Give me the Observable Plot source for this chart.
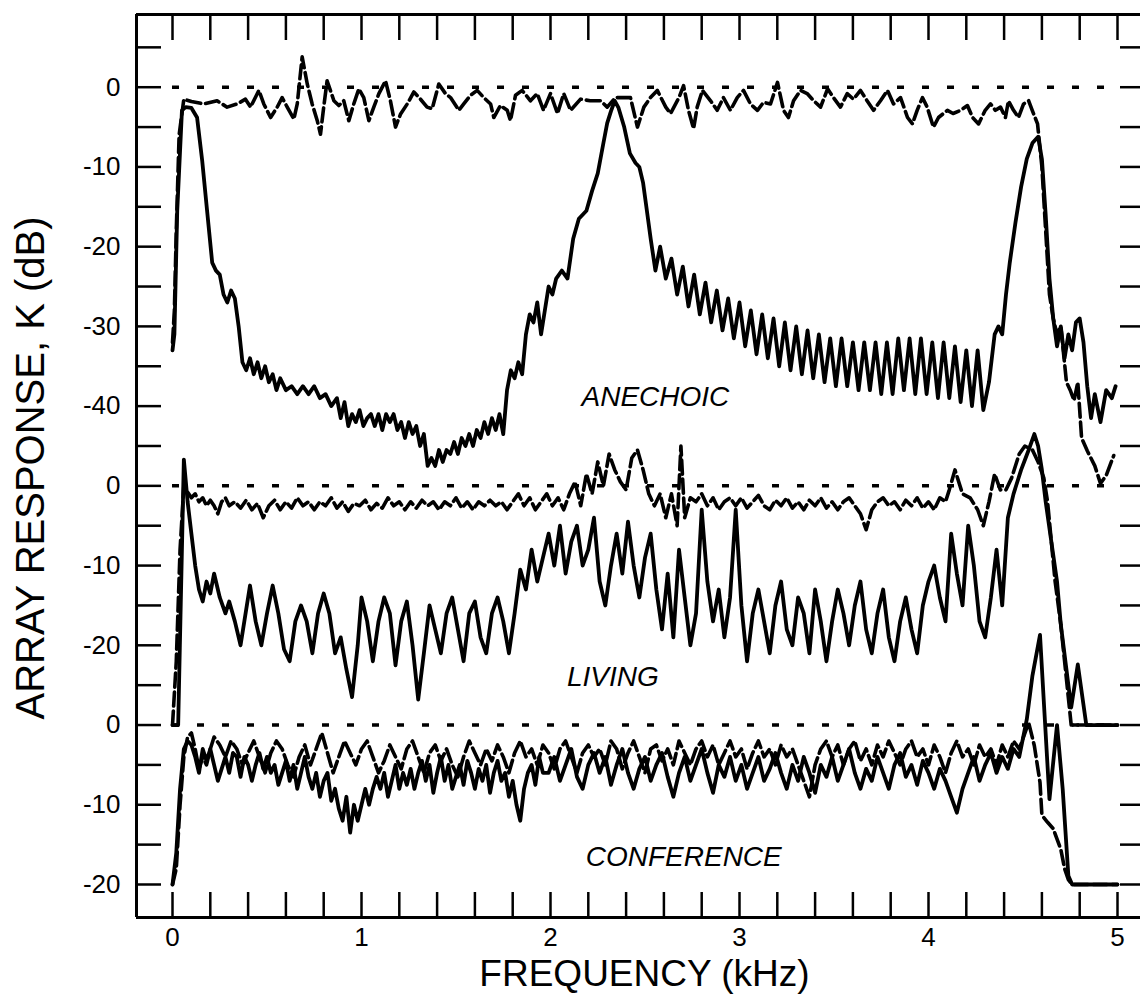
<!DOCTYPE html>
<html><head><meta charset="utf-8">
<script src="https://cdn.jsdelivr.net/npm/d3@7"></script>
<script src="https://cdn.jsdelivr.net/npm/@observablehq/plot@0.6"></script>
<style>body{margin:0;background:#fff;}</style>
</head><body><div id="chart"></div>
<script>
// ---- Data (frequency in kHz, response in dB relative to each panel's 0 dB line) ----
const panels = ["ANECHOIC", "LIVING", "CONFERENCE"];
const panelOffsets = [0, -50, -80];

const xTicks = [0,0.2,0.4,0.6,0.8,1,1.2,1.4,1.6,1.8,2,2.2,2.4,2.6,2.8,3,3.2,3.4,3.6,3.8,4,4.2,4.4,4.6,4.8,5];
const xTickLabels = [0,1,2,3,4,5];
const yTicks = [5,0,-5,-10,-15,-20,-25,-30,-35,-40,-45,-50,-55,-60,-65,-70,-75,-80,-85,-90,-95,-100];
const yLabelValues = [0,-10,-20,-30,-40,-50,-60,-70,-80,-90,-100];
const yLabelText = ["0","-10","-20","-30","-40","0","-10","-20","0","-10","-20"];

const anechoicSolid = [[0,-33],[0.01,-31],[0.025,-15.5],[0.05,-2.9],[0.07,-2.5],[0.1,-2.6],[0.13,-3.8],[0.157,-9.2],[0.183,-15.5],[0.21,-22],[0.23,-23],[0.25,-23.5],[0.27,-26],[0.29,-27],[0.31,-25.5],[0.33,-26.5],[0.35,-30],[0.37,-34.5],[0.39,-35.5],[0.41,-34],[0.43,-36],[0.45,-34.5],[0.47,-36.5],[0.49,-35],[0.51,-37],[0.53,-36],[0.55,-38],[0.57,-36.5],[0.6,-38],[0.63,-37.5],[0.66,-38.5],[0.69,-37.5],[0.72,-38.5],[0.75,-37.5],[0.78,-39],[0.81,-38.5],[0.84,-40],[0.87,-39],[0.89,-41.5],[0.91,-39.5],[0.93,-42.5],[0.95,-41],[0.97,-42],[0.99,-40.5],[1.01,-42.5],[1.03,-41.5],[1.05,-41],[1.07,-42.5],[1.09,-41],[1.11,-43],[1.13,-41],[1.15,-42],[1.17,-41],[1.19,-43],[1.21,-42],[1.23,-44],[1.25,-42],[1.27,-43.5],[1.29,-42.5],[1.31,-45],[1.33,-43.5],[1.35,-47.5],[1.37,-46.5],[1.39,-47.5],[1.41,-45.5],[1.43,-47],[1.45,-45.5],[1.47,-46],[1.49,-44.5],[1.51,-46],[1.53,-44],[1.55,-45],[1.57,-43.5],[1.59,-45],[1.61,-43],[1.63,-44],[1.65,-42],[1.67,-43.5],[1.69,-41.5],[1.71,-43],[1.73,-41],[1.75,-43.5],[1.77,-38],[1.79,-35.5],[1.81,-36.5],[1.83,-34.5],[1.85,-36],[1.87,-31],[1.89,-28.5],[1.91,-29.5],[1.93,-27],[1.95,-31],[1.97,-28],[1.99,-25],[2.01,-26],[2.03,-24],[2.06,-23],[2.09,-24],[2.12,-19],[2.15,-16.5],[2.19,-15.5],[2.22,-13],[2.25,-10.8],[2.28,-7],[2.3,-4.5],[2.32,-3],[2.34,-1.7],[2.36,-2.6],[2.39,-5],[2.42,-8.3],[2.45,-9.5],[2.47,-10],[2.49,-12],[2.51,-15.5],[2.53,-19],[2.555,-23],[2.58,-20],[2.61,-24],[2.64,-21.5],[2.67,-26],[2.7,-22.5],[2.73,-27.5],[2.76,-23.5],[2.79,-28.5],[2.82,-24.5],[2.85,-29.5],[2.88,-25.5],[2.91,-30.5],[2.94,-26.5],[2.97,-31.5],[3,-27],[3.03,-32.5],[3.06,-28],[3.09,-33.5],[3.12,-28.5],[3.15,-34],[3.18,-29],[3.21,-35],[3.24,-29.5],[3.27,-35.5],[3.3,-30],[3.33,-36],[3.36,-30.5],[3.39,-36.5],[3.42,-31],[3.45,-37],[3.48,-31.5],[3.51,-37.5],[3.54,-31.5],[3.57,-37.5],[3.6,-32],[3.63,-38],[3.66,-32],[3.69,-38],[3.72,-32],[3.75,-38.5],[3.78,-32],[3.81,-38.5],[3.84,-31.5],[3.87,-38],[3.9,-31.5],[3.93,-38.5],[3.96,-31.5],[3.99,-38.5],[4.02,-32],[4.05,-39],[4.08,-32],[4.11,-39],[4.14,-32.5],[4.17,-39.5],[4.2,-33],[4.23,-40],[4.26,-33],[4.29,-40.5],[4.32,-37],[4.35,-31],[4.37,-30],[4.39,-31],[4.41,-26],[4.43,-22],[4.46,-17],[4.49,-12.5],[4.52,-9],[4.55,-7],[4.58,-6.2],[4.6,-9],[4.62,-16],[4.64,-24],[4.66,-29],[4.68,-32.5],[4.7,-30],[4.72,-34],[4.74,-31],[4.76,-33],[4.78,-29.5],[4.8,-29],[4.82,-32],[4.84,-37.5],[4.86,-41.5],[4.88,-38.5],[4.91,-42],[4.94,-38],[4.97,-39],[4.99,-37.5]];

const anechoicDashed = [[0,-32],[0.01,-28],[0.02,-18],[0.035,-6],[0.06,-1.5],[0.1,-1.8],[0.166,-2.1],[0.236,-1.7],[0.289,-2.5],[0.342,-2.1],[0.386,-1.5],[0.413,-2.5],[0.457,-0.4],[0.483,-2.1],[0.519,-3.8],[0.554,-2.5],[0.58,-1.3],[0.607,-2.5],[0.642,-4],[0.66,-2.1],[0.686,3.8],[0.713,0.4],[0.739,-2.1],[0.766,-4.2],[0.783,-5.9],[0.8,-2.5],[0.818,0.8],[0.854,-1.7],[0.88,-2.3],[0.906,-1.7],[0.933,-4.2],[0.959,-2.1],[0.986,-0.2],[1.012,-1.3],[1.039,-4.2],[1.065,-2.5],[1.092,-0.8],[1.127,0.8],[1.153,-1.7],[1.18,-5],[1.206,-3.4],[1.242,-2.1],[1.277,-0.6],[1.312,-1.5],[1.347,-2.5],[1.374,-2.7],[1.409,0.4],[1.444,-0.8],[1.471,-1.3],[1.515,-2.9],[1.541,-2.1],[1.577,-1],[1.612,-0.4],[1.647,-1.3],[1.683,-2.1],[1.7,-3.8],[1.735,-2.3],[1.771,-2.9],[1.788,-4.2],[1.815,-1],[1.85,-0.4],[1.894,-1.7],[1.93,-0.8],[1.963,-2.9],[2,-0.8],[2.037,-3.3],[2.07,-0.8],[2.106,-2.9],[2.159,-1.5],[2.21,-1.7],[2.265,-1.7],[2.3,-2.5],[2.344,-1.3],[2.388,-1.3],[2.423,-1.3],[2.46,-5],[2.494,-2.5],[2.529,-1.3],[2.565,-0.4],[2.61,-2.5],[2.635,-3.3],[2.68,-1.3],[2.704,0.2],[2.73,-2.9],[2.757,-5.2],[2.776,-2.5],[2.804,-0.4],[2.847,-1.7],[2.882,-2.9],[2.915,-1.3],[2.952,-2.9],[2.988,-1.3],[3.021,-0.4],[3.058,-2.1],[3.095,-2.9],[3.127,-1.9],[3.164,-2.1],[3.201,0.6],[3.233,-2.9],[3.259,-3.8],[3.286,-1.7],[3.323,-0.4],[3.358,-0.8],[3.393,-1.7],[3.429,-2.5],[3.466,-0.2],[3.497,-1.3],[3.534,-2.5],[3.57,-0.8],[3.603,-1.5],[3.64,-0.4],[3.675,-1.7],[3.709,-2.9],[3.746,-1.7],[3.783,-0.4],[3.815,-2.1],[3.852,-1.3],[3.889,-3.8],[3.915,-4.6],[3.94,-2.9],[3.968,-1.3],[3.993,-2.5],[4.026,-5],[4.053,-3.8],[4.1,-2.9],[4.13,-3.3],[4.17,-2.9],[4.206,-2.3],[4.233,-3.8],[4.265,-4.6],[4.3,-2.9],[4.328,-2.1],[4.354,-2.9],[4.381,-2.5],[4.407,-3.8],[4.423,-1.7],[4.45,-2.9],[4.476,-3.8],[4.503,-2.1],[4.53,-1.7],[4.549,-2.9],[4.577,-4.6],[4.6,-10],[4.62,-18],[4.64,-26],[4.66,-29],[4.68,-31],[4.7,-30],[4.73,-37],[4.75,-38],[4.77,-39.3],[4.79,-37],[4.81,-44],[4.84,-45.6],[4.88,-47.5],[4.91,-49.7],[4.94,-48.7],[4.98,-46.2]];

const livingSolid = [[0,-30],[0.03,-30],[0.06,3.3],[0.08,-2],[0.1,-6],[0.12,-10],[0.14,-13],[0.16,-14.5],[0.18,-12],[0.2,-13.5],[0.22,-11],[0.25,-14],[0.28,-16],[0.3,-14.5],[0.33,-17],[0.36,-20],[0.38,-17],[0.41,-12.5],[0.44,-17],[0.47,-20],[0.5,-16],[0.53,-12.5],[0.56,-16],[0.59,-20.5],[0.62,-22],[0.65,-17],[0.68,-15],[0.71,-17],[0.74,-21],[0.77,-16],[0.8,-13.5],[0.83,-16],[0.86,-21],[0.89,-19],[0.92,-23],[0.95,-26.5],[0.98,-20],[1,-14],[1.03,-17],[1.06,-22],[1.09,-17],[1.12,-14],[1.15,-16],[1.18,-22.5],[1.21,-17],[1.24,-14.5],[1.27,-20],[1.3,-26.8],[1.33,-21],[1.36,-15],[1.39,-18],[1.42,-21],[1.45,-16],[1.48,-14],[1.51,-18],[1.54,-22],[1.57,-16],[1.6,-14.5],[1.63,-19],[1.66,-21],[1.69,-16],[1.72,-14],[1.75,-17],[1.78,-21],[1.81,-16],[1.84,-10.5],[1.87,-13],[1.9,-8],[1.93,-12],[1.96,-9],[1.99,-6],[2.02,-10],[2.05,-5],[2.08,-11],[2.11,-7],[2.14,-5],[2.17,-10],[2.2,-8],[2.23,-4],[2.26,-12],[2.29,-15],[2.32,-10],[2.35,-6],[2.38,-11],[2.41,-4.5],[2.44,-10],[2.47,-14],[2.5,-9],[2.53,-6],[2.56,-13],[2.59,-18],[2.62,-11],[2.65,-19],[2.68,-8],[2.71,-14],[2.74,-20],[2.77,-16],[2.8,-3],[2.83,-12],[2.86,-17],[2.89,-13],[2.92,-19],[2.95,-14],[2.98,-3],[3.01,-15],[3.04,-22],[3.07,-16],[3.1,-13],[3.13,-17],[3.16,-21],[3.19,-15],[3.22,-12],[3.25,-18],[3.28,-20],[3.31,-14],[3.34,-16],[3.37,-21],[3.4,-13],[3.43,-17],[3.46,-22],[3.49,-17],[3.52,-13],[3.55,-16],[3.58,-20],[3.61,-15],[3.64,-12],[3.67,-18],[3.7,-21],[3.73,-16],[3.76,-13],[3.79,-19],[3.82,-22],[3.85,-17],[3.88,-14],[3.91,-18],[3.94,-21],[3.97,-15],[4,-12],[4.03,-10],[4.06,-14],[4.09,-17],[4.12,-6],[4.15,-11],[4.18,-15],[4.21,-5],[4.24,-10],[4.27,-17],[4.3,-19],[4.33,-14],[4.36,-8],[4.39,-15],[4.42,-4],[4.45,-1],[4.49,2],[4.53,4.5],[4.56,6.5],[4.58,5],[4.6,2],[4.62,-2],[4.65,-7],[4.68,-12],[4.7,-17.4],[4.755,-27.8],[4.79,-22.4],[4.835,-30],[5,-30]];

const livingDashed = [[0,-30],[0.02,-22],[0.04,-8],[0.06,0],[0.08,-0.8],[0.1,-1.5],[0.12,-1],[0.14,-2],[0.16,-1.5],[0.18,-2.5],[0.2,-1.8],[0.22,-2.5],[0.24,-3.5],[0.26,-2],[0.28,-1.5],[0.3,-2.5],[0.33,-2],[0.36,-2.8],[0.39,-1.8],[0.42,-3],[0.45,-2.2],[0.48,-4],[0.51,-2.5],[0.54,-1.8],[0.57,-3],[0.6,-2],[0.63,-2.8],[0.66,-1.5],[0.69,-2.5],[0.72,-2],[0.75,-3],[0.78,-2],[0.81,-2.5],[0.84,-1.5],[0.87,-2.8],[0.9,-2],[0.93,-3.2],[0.96,-2.2],[0.99,-2.5],[1.02,-1.8],[1.05,-3],[1.08,-2.2],[1.11,-2.8],[1.14,-1.5],[1.17,-2.5],[1.2,-2],[1.23,-3],[1.26,-2],[1.29,-2.8],[1.32,-1.8],[1.35,-2.5],[1.38,-2],[1.41,-3],[1.44,-2],[1.47,-2.5],[1.5,-1.5],[1.53,-2.8],[1.56,-2],[1.59,-3],[1.62,-2],[1.65,-2.5],[1.68,-1.8],[1.71,-2.5],[1.74,-2],[1.77,-3],[1.8,-2],[1.83,-1],[1.86,-2.5],[1.89,-1.5],[1.92,-3],[1.95,-2],[1.98,-1],[2.01,-2.5],[2.04,-1.5],[2.07,-3],[2.1,-1],[2.13,0.5],[2.16,-2.5],[2.19,1.5],[2.22,-1],[2.25,3],[2.28,0],[2.31,4],[2.34,2],[2.37,0.5],[2.4,-0.5],[2.43,3.5],[2.46,4.5],[2.49,2],[2.52,-1],[2.55,-2.5],[2.58,-1],[2.61,-4],[2.64,-1],[2.67,-5],[2.69,5],[2.71,-4],[2.74,-1.5],[2.77,-2],[2.8,-1],[2.83,-2.5],[2.86,-1.5],[2.89,-3],[2.92,-2],[2.95,-1.5],[2.98,-2.5],[3.01,-1.5],[3.04,-2.8],[3.07,-2],[3.1,-1.2],[3.13,-2.5],[3.16,-3],[3.19,-1.8],[3.22,-2.5],[3.25,-1.5],[3.28,-2.8],[3.31,-2],[3.34,-3],[3.37,-1.8],[3.4,-2.5],[3.43,-1.5],[3.46,-2.8],[3.49,-2],[3.52,-3],[3.55,-2],[3.58,-1.5],[3.61,-2.5],[3.64,-3.5],[3.67,-5.5],[3.7,-3],[3.73,-2],[3.76,-1.5],[3.79,-2.5],[3.82,-2],[3.85,-3],[3.88,-1.8],[3.91,-2.5],[3.94,-1.5],[3.97,-2.8],[4,-2],[4.03,-3],[4.06,-1.5],[4.09,-2],[4.11,-0.5],[4.14,2],[4.18,-1],[4.22,-1.5],[4.26,-3],[4.29,-5],[4.32,-2],[4.35,1.5],[4.38,-0.5],[4.41,-0.5],[4.44,1],[4.48,4],[4.51,5],[4.55,4.5],[4.58,3],[4.61,1],[4.63,-2],[4.65,-7],[4.67,-12],[4.7,-17.4],[4.755,-30],[5,-30]];

const conferenceSolid = [[0,-20],[0.02,-16],[0.04,-8],[0.06,-3],[0.08,-2],[0.1,-2.5],[0.12,-4],[0.14,-6],[0.16,-3],[0.18,-4.5],[0.2,-3],[0.22,-5],[0.24,-7],[0.26,-5.5],[0.28,-4],[0.3,-6],[0.32,-3.5],[0.34,-4],[0.36,-6.5],[0.38,-4],[0.4,-5],[0.42,-7],[0.44,-5],[0.46,-3.5],[0.48,-5.5],[0.5,-4],[0.52,-6],[0.54,-5],[0.56,-7.5],[0.58,-6],[0.6,-4.5],[0.62,-7],[0.64,-5],[0.66,-8],[0.68,-6],[0.7,-4],[0.72,-6.5],[0.74,-8],[0.76,-6],[0.78,-9],[0.8,-7],[0.82,-6],[0.84,-9.5],[0.86,-8],[0.88,-10.5],[0.9,-12],[0.92,-9],[0.94,-13.5],[0.96,-10],[0.98,-12],[1,-10],[1.02,-8],[1.04,-10],[1.06,-8],[1.08,-6.5],[1.1,-8],[1.12,-6],[1.14,-9],[1.16,-7],[1.18,-5],[1.2,-8],[1.22,-6],[1.24,-7.5],[1.26,-5.5],[1.28,-8],[1.3,-6],[1.32,-4.5],[1.34,-7],[1.36,-5],[1.38,-8.5],[1.4,-6],[1.42,-4],[1.44,-7],[1.46,-5],[1.48,-8],[1.5,-6.5],[1.52,-5],[1.54,-7.5],[1.56,-4.5],[1.58,-6],[1.6,-8],[1.62,-5.5],[1.64,-7],[1.66,-5],[1.68,-8.5],[1.7,-6],[1.72,-4.5],[1.74,-7],[1.76,-6],[1.78,-9],[1.8,-7],[1.82,-10],[1.84,-12],[1.86,-8],[1.88,-6],[1.9,-5],[1.92,-7.5],[1.94,-4],[1.96,-6],[1.99,-6],[2.02,-4],[2.05,-7],[2.08,-5],[2.11,-3],[2.14,-6.5],[2.17,-8],[2.2,-5],[2.23,-3.5],[2.26,-6],[2.29,-4],[2.32,-7.5],[2.35,-5],[2.38,-3],[2.41,-6],[2.44,-8],[2.47,-5.5],[2.5,-4],[2.53,-7],[2.56,-5],[2.59,-3.5],[2.62,-6.5],[2.65,-9],[2.68,-6],[2.71,-4],[2.74,-7],[2.77,-5],[2.8,-3],[2.83,-6],[2.86,-8.5],[2.89,-5],[2.92,-6.5],[2.95,-4],[2.98,-7],[3.01,-5],[3.04,-8],[3.07,-6],[3.1,-4],[3.13,-7],[3.16,-5.5],[3.19,-3.5],[3.22,-6],[3.25,-8],[3.28,-5],[3.31,-7],[3.34,-4],[3.37,-6],[3.4,-8.5],[3.43,-5],[3.46,-6.5],[3.49,-4],[3.52,-7],[3.55,-5],[3.58,-3],[3.61,-6],[3.64,-8],[3.67,-5.5],[3.7,-7],[3.73,-4],[3.76,-6],[3.79,-8],[3.82,-5],[3.85,-3.5],[3.88,-6.5],[3.91,-5],[3.94,-7.5],[3.97,-4.5],[4,-6],[4.03,-8],[4.06,-5.5],[4.09,-7],[4.12,-9],[4.15,-11],[4.18,-8],[4.21,-6],[4.24,-4],[4.27,-7],[4.3,-5],[4.33,-3.5],[4.36,-6],[4.39,-4],[4.42,-5.5],[4.45,-3],[4.48,-4],[4.52,0.7],[4.55,6.2],[4.59,11.3],[4.61,3],[4.64,-9.3],[4.68,0],[4.71,-8],[4.74,-18.9],[4.76,-20],[5,-20]];

const conferenceDashed = [[0,-20],[0.02,-18],[0.04,-10],[0.06,-4],[0.08,-1.5],[0.1,-1],[0.12,-3],[0.14,-5.5],[0.16,-4],[0.18,-5],[0.2,-3],[0.22,-1.5],[0.25,-2.5],[0.28,-4],[0.31,-2],[0.34,-3],[0.37,-5],[0.4,-3.5],[0.43,-2],[0.46,-4],[0.49,-6],[0.52,-3.5],[0.55,-2],[0.58,-3],[0.61,-5],[0.64,-6.5],[0.67,-4],[0.7,-2.5],[0.73,-5],[0.76,-3],[0.79,-1],[0.82,-3.5],[0.85,-6],[0.88,-4],[0.91,-2],[0.94,-3.5],[0.97,-5],[1,-3],[1.03,-2],[1.06,-4],[1.09,-6],[1.12,-4.5],[1.15,-2.5],[1.18,-4],[1.21,-5.5],[1.24,-3],[1.27,-2],[1.3,-4],[1.33,-6],[1.36,-3.5],[1.39,-2.5],[1.42,-4.5],[1.45,-3],[1.48,-5],[1.51,-6.5],[1.54,-4],[1.57,-2],[1.6,-3.5],[1.63,-5],[1.66,-3],[1.69,-4.5],[1.72,-2.5],[1.75,-4],[1.78,-6],[1.81,-3.5],[1.84,-2],[1.87,-4],[1.9,-3],[1.93,-5],[1.96,-2.5],[1.99,-3.5],[2.02,-5.5],[2.05,-3],[2.08,-2],[2.11,-4],[2.14,-6],[2.17,-3.5],[2.2,-2.5],[2.23,-4],[2.26,-3],[2.29,-5],[2.32,-2],[2.35,-3],[2.38,-5.5],[2.41,-3.5],[2.44,-2],[2.47,-4],[2.5,-6],[2.53,-3],[2.56,-2.5],[2.59,-4.5],[2.62,-3],[2.65,-5],[2.68,-2],[2.71,-3.5],[2.74,-5],[2.77,-3],[2.8,-2],[2.83,-4],[2.86,-2.5],[2.89,-5],[2.92,-3.5],[2.95,-2],[2.98,-4],[3.01,-3],[3.04,-5.5],[3.07,-3.5],[3.1,-2],[3.13,-4],[3.16,-3],[3.19,-5],[3.22,-2.5],[3.25,-4],[3.28,-3],[3.31,-5],[3.34,-7],[3.37,-9],[3.4,-5],[3.43,-3],[3.46,-2],[3.49,-4],[3.52,-2.5],[3.55,-5],[3.58,-3],[3.61,-2],[3.64,-4.5],[3.67,-3],[3.7,-5],[3.73,-2.5],[3.76,-4],[3.79,-2],[3.82,-3.5],[3.85,-5],[3.88,-3],[3.91,-2],[3.94,-4],[3.97,-3],[4,-5],[4.03,-2.5],[4.06,-4],[4.09,-6],[4.12,-3.5],[4.15,-2],[4.18,-4],[4.21,-3],[4.24,-5],[4.27,-2.5],[4.3,-4],[4.33,-3],[4.36,-5],[4.39,-2.5],[4.42,-4],[4.45,-2],[4.48,-3],[4.53,0.3],[4.56,-2.6],[4.59,-7.2],[4.6,-11.3],[4.63,-12.2],[4.66,-13],[4.7,-15.6],[4.72,-18],[4.74,-19.4],[4.76,-20],[5,-20]];

// ---- Build table ----
const seriesList = [
  {panel: 0, kind: "solid", pts: anechoicSolid},
  {panel: 0, kind: "dashed", pts: anechoicDashed},
  {panel: 1, kind: "solid", pts: livingSolid},
  {panel: 1, kind: "dashed", pts: livingDashed},
  {panel: 2, kind: "solid", pts: conferenceSolid},
  {panel: 2, kind: "dashed", pts: conferenceDashed}
];
const rows = seriesList.flatMap(s => s.pts.map(([f, v]) => ({
  f, y: v + panelOffsets[s.panel], series: panels[s.panel] + "-" + s.kind, kind: s.kind
})));
const labelFor = new Map(yLabelValues.map((v, i) => [v, yLabelText[i]]));
const labelRows = panels.map((name, i) => ({name, offset: panelOffsets[i]}));

const xDomain = [-0.1905, 5.1217];
const yDomain = [-104.14, 9.12];

const chart = Plot.plot({
  width: 1140,
  height: 1004,
  marginLeft: 136,
  marginRight: 0,
  marginTop: 14,
  marginBottom: 87,
  style: {fontFamily: "'Liberation Sans', Arial, sans-serif", color: "black", background: "white"},
  x: {domain: xDomain},
  y: {domain: yDomain},
  marks: [
    Plot.ruleY(panelOffsets, {x1: 0, x2: 5, stroke: "black", strokeWidth: 3.5, strokeDasharray: "7,18"}),
    Plot.line(rows.filter(d => d.kind === "dashed"), {x: "f", y: "y", z: "series", stroke: "black", strokeWidth: 3.6, strokeDasharray: "14,5", strokeLinejoin: "round"}),
    Plot.line(rows.filter(d => d.kind === "solid"), {x: "f", y: "y", z: "series", stroke: "black", strokeWidth: 3.8, strokeLinejoin: "round"}),
    Plot.text(labelRows, {
      x: [2.555, 2.33, 2.705],
      y: (d, i) => d.offset + [-38.8, -24.0, -16.6][i],
      text: "name", fontSize: 28, fontStyle: "italic", fill: "black"
    }),
    Plot.ruleX([xDomain[0]], {stroke: "black", strokeWidth: 3}),
    Plot.ruleY([yDomain[1], yDomain[0]], {stroke: "black", strokeWidth: 3}),
    Plot.axisX(xTicks, {anchor: "bottom", tickSize: -25, strokeWidth: 2.5, fill: "none", label: null}),
    Plot.axisX(xTicks, {anchor: "top", tickSize: -25, strokeWidth: 2.5, fill: "none", label: null}),
    Plot.axisY(yTicks, {anchor: "left", tickSize: -25, strokeWidth: 2.5, fill: "none", label: null}),
    Plot.axisY(yTicks, {anchor: "right", tickSize: -21, strokeWidth: 2.5, fill: "none", label: null}),
    Plot.axisX(xTickLabels, {anchor: "bottom", tickSize: 0, tickPadding: 10, fontSize: 26, tickFormat: d => String(d), label: null}),
    Plot.axisY(yLabelValues, {anchor: "left", tickSize: 0, tickPadding: 16, fontSize: 26, tickFormat: d => labelFor.get(d), label: null}),
    Plot.text(["FREQUENCY (kHz)"], {frameAnchor: "bottom", dy: 68, dx: 6, fontSize: 37, fill: "black"}),
    Plot.text(["ARRAY RESPONSE, K (dB)"], {frameAnchor: "left", textAnchor: "middle", dx: -105, dy: 2, rotate: -90, fontSize: 40, fill: "black"})
  ]
});
document.getElementById("chart").appendChild(chart);
</script>
</body></html>
